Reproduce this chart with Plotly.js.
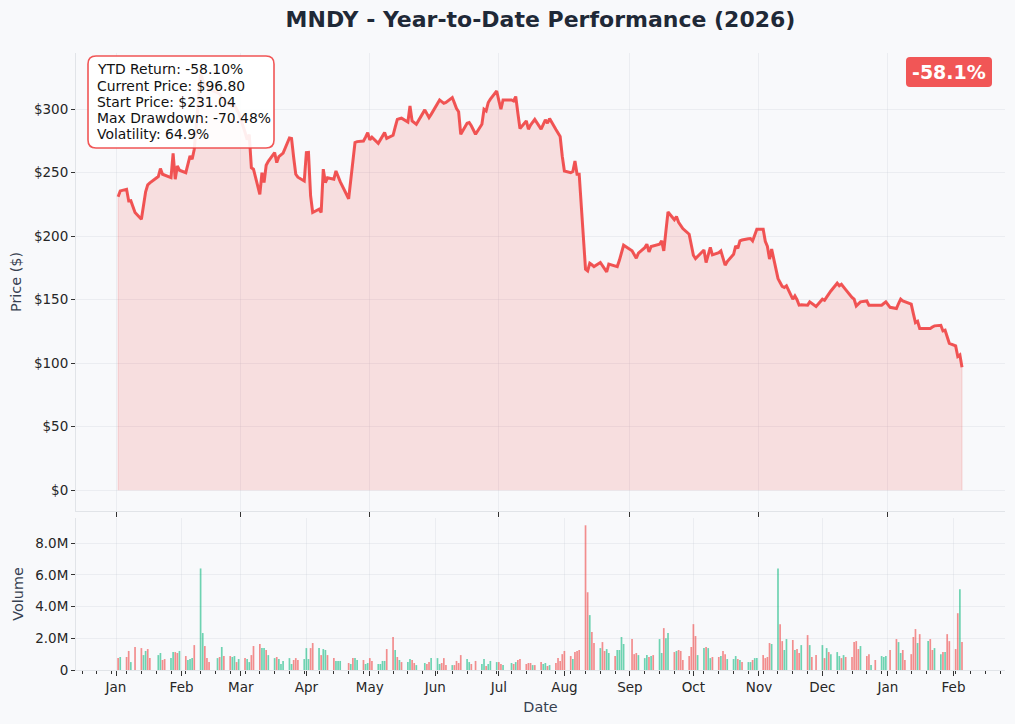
<!DOCTYPE html>
<html>
<head>
<meta charset="utf-8">
<script src="https://cdn.plot.ly/plotly-3.0.1.min.js"></script>
<style>
  html, body { margin: 0; padding: 0; background: #f8f9fb; }
  #chart { width: 1015px; height: 724px; }
</style>
</head>
<body>
<div id="chart"></div>
<script>
// trading days, one row per month
const tradingDays = [
  ["2025-01", "02 03 06 07 08 10 13 14 15 16 17 21 22 23 24 27 28 29 30 31"],
  ["2025-02", "03 04 05 06 07 10 11 12 13 14 18 19 20 21 24 25 26 27 28"],
  ["2025-03", "03 04 05 06 07 10 11 12 13 14 17 18 19 20 21 24 25 26 27 28 31"],
  ["2025-04", "01 02 03 04 07 08 09 10 11 14 15 16 17 21 22 23 24 25 28 29 30"],
  ["2025-05", "01 02 05 06 07 08 09 12 13 14 15 16 19 20 21 22 23 27 28 29 30"],
  ["2025-06", "02 03 04 05 06 09 10 11 12 13 16 17 18 20 23 24 25 26 27 30"],
  ["2025-07", "01 02 03 07 08 09 10 11 14 15 16 17 18 21 22 23 24 25 28 29 30 31"],
  ["2025-08", "01 04 05 06 07 08 11 12 13 14 15 18 19 20 21 22 25 26 27 28 29"],
  ["2025-09", "02 03 04 05 08 09 10 11 12 15 16 17 18 19 22 23 24 25 26 29 30"],
  ["2025-10", "01 02 03 06 07 08 09 10 13 14 15 16 17 20 21 22 23 24 27 28 29 30 31"],
  ["2025-11", "03 04 05 06 07 10 11 12 13 14 17 18 19 20 21 24 25 26 28"],
  ["2025-12", "01 02 03 04 05 08 09 10 11 12 15 16 17 18 19 22 23 24 26 29 30 31"],
  ["2026-01", "02 05 06 07 08 09 12 13 14 15 16 20 21 22 23 26 27 28 29 30"],
  ["2026-02", "02 03 04 05"],
];
const dates = tradingDays.flatMap(([m, ds]) => ds.split(" ").map(d => m + "-" + d));

// closing price ($), same order as dates
const closePrice = [
  231.04, 235.7, 237.0, 227.8, 228.0, 218.7, 213.4, 225.6, 235.0, 240.5, 242.0, 247.0, 253.3, 248.8, 248.0, 246.2, 265.3, 244.9, 255.4, 252.0,
  250.0, 256.0, 263.2, 260.6, 268.5, 327.9, 322.0, 318.0, 320.0, 316.0, 313.0, 312.0, 309.0, 307.0, 304.0, 302.0, 303.0, 300.0, 297.0,
  282.0, 276.0, 280.0, 254.0, 252.8, 233.0, 250.0, 242.3, 255.9, 259.0, 265.9, 258.0, 262.7, 264.0, 265.4, 277.4, 277.0, 262.0, 248.8, 246.5, 243.5,
  265.9, 266.0, 232.0, 218.7, 221.3, 218.7, 252.8, 242.3, 246.0, 244.9, 251.4, 247.0, 243.0, 229.5, 244.0, 258.0, 273.8, 274.5, 275.0, 278.0, 281.6,
  276.0, 278.0, 273.2, 276.0, 279.0, 281.6, 277.0, 279.5, 286.0, 292.0, 292.5, 293.0, 290.0, 302.6, 290.8, 289.5, 288.2, 299.5, 296.0, 293.5, 296.0,
  305.0, 307.3, 306.0, 304.7, 305.3, 309.2, 305.0, 300.5, 298.0, 280.3, 289.0, 289.5, 287.0, 280.3, 288.2, 300.0, 298.7, 305.3, 308.0, 314.4,
  307.0, 300.0, 307.3, 307.3, 306.5, 310.0, 297.0, 284.8, 290.8, 284.3, 287.5, 290.0, 292.0, 284.3, 288.0, 291.6, 289.0, 292.7, 284.0, 281.0, 278.5, 263.0,
  251.4, 250.1, 251.0, 259.3, 248.8, 248.8, 174.0, 172.7, 178.7, 177.5, 176.1, 179.3, 177.0, 174.5, 171.9, 178.0, 176.5, 176.1, 181.0, 187.0, 192.9,
  188.5, 186.0, 182.7, 186.7, 191.0, 193.7, 187.6, 191.9, 192.5, 193.7, 196.3, 188.4, 204.0, 219.1, 213.0, 215.5, 211.0, 208.0, 206.0, 201.6, 193.0,
  185.0, 182.4, 184.0, 189.2, 179.3, 185.0, 191.1, 185.3, 187.0, 188.4, 182.0, 177.2, 180.0, 185.8, 192.4, 190.5, 196.3, 197.0, 198.0, 198.2, 196.3, 201.0, 205.5,
  205.5, 196.0, 192.0, 182.0, 189.8, 166.8, 163.5, 160.5, 159.6, 160.9, 150.4, 153.0, 150.0, 145.7, 146.0, 145.7, 148.3, 147.0, 144.6,
  150.4, 149.5, 152.0, 154.5, 156.9, 163.0, 161.0, 162.2, 160.5, 158.0, 151.8, 150.4, 145.1, 146.5, 148.3, 149.0, 145.7, 145.7, 145.7, 145.7, 147.0, 148.3,
  144.0, 143.1, 147.0, 150.4, 149.0, 148.5, 146.5, 139.0, 132.0, 133.0, 127.3, 127.3, 127.3, 128.5, 129.4, 129.9, 125.4, 126.0, 121.0, 115.7,
  113.6, 105.3, 106.5, 96.8,
];

// daily volume in millions of shares
const volumeM = [
  0.75, 0.82, 0.82, 1.20, 0.50, 1.45, 1.38, 0.94, 1.20, 1.32, 0.75, 0.94, 1.07, 0.63, 0.69, 0.75, 1.13, 1.13, 1.07, 1.20,
  0.88, 0.63, 0.69, 0.75, 1.57, 6.40, 2.33, 1.51, 0.75, 0.50, 0.75, 0.82, 1.45, 0.88, 0.88, 0.82, 0.88, 0.50, 0.69,
  0.75, 0.69, 0.50, 0.94, 1.51, 1.64, 1.38, 1.38, 1.26, 0.94, 0.75, 0.82, 0.69, 0.38, 0.57, 0.75, 0.38, 0.63, 0.75, 0.63, 0.69,
  1.38, 0.69, 1.38, 1.70, 1.38, 0.94, 1.32, 1.26, 0.94, 0.75, 0.57, 0.57, 0.57, 0.44, 0.38, 0.75, 0.75, 0.63, 0.63, 0.38, 0.44,
  0.75, 0.57, 0.38, 0.38, 0.57, 0.57, 1.32, 2.08, 1.26, 0.82, 0.63, 0.50, 0.50, 0.69, 0.63, 0.44, 0.31, 0.44, 0.38, 0.50, 0.75,
  0.75, 0.38, 0.44, 0.75, 0.31, 0.31, 0.31, 0.57, 0.44, 0.94, 0.69, 0.50, 0.38, 0.57, 0.38, 0.69, 0.25, 0.38, 0.57, 0.50,
  0.50, 0.38, 0.31, 0.44, 0.38, 0.50, 0.63, 0.69, 0.38, 0.44, 0.44, 0.31, 0.31, 0.50, 0.38, 0.44, 0.25, 0.31, 0.44, 0.75, 0.57, 1.00,
  1.20, 0.88, 0.69, 1.13, 1.20, 1.26, 9.12, 4.90, 3.46, 2.39, 1.70, 1.38, 1.76, 1.20, 1.32, 1.07, 0.88, 1.26, 1.26, 2.08, 1.64,
  1.95, 1.00, 1.07, 0.94, 0.75, 0.94, 0.82, 0.88, 0.94, 1.95, 1.07, 2.64, 2.00, 2.33, 1.13, 1.20, 1.26, 1.20, 0.63, 0.88, 1.45,
  2.89, 2.14, 0.94, 1.38, 1.45, 1.38, 0.75, 0.82, 0.82, 0.88, 1.20, 1.00, 0.69, 0.69, 0.88, 0.69, 0.63, 0.50, 0.50, 0.50, 0.63, 0.75, 0.75,
  0.94, 0.75, 0.82, 1.70, 1.64, 6.40, 2.89, 1.82, 1.26, 1.95, 1.89, 1.26, 1.32, 1.07, 1.57, 2.20, 1.57, 0.82, 0.94,
  1.57, 0.75, 1.38, 1.13, 1.00, 1.13, 0.88, 0.75, 0.94, 0.82, 0.82, 1.76, 1.82, 1.32, 1.51, 0.88, 1.00, 0.31, 0.63, 0.88, 0.82, 0.88,
  1.26, 1.95, 1.76, 1.07, 1.26, 0.63, 1.00, 2.08, 2.58, 1.70, 2.26, 1.82, 1.95, 1.26, 1.38, 1.00, 1.13, 1.13, 2.26, 1.82,
  1.32, 3.58, 5.09, 1.76,
];

// G = up day (green bar), R = down day (red bar)
const barSide = [
  "RGRRGRRGGRRGGRRGGRRG", "RGGGRGGRRRGRGRRGGRG", "RGGRRRGGRGGRGGGGGRRRG",
  "GGRRGRGGRRGGGRGRGGRGG", "RRGGGGRRGRGRGGRRGGRRG", "GGRRRGRRRRGGRRGGRGGG",
  "RRGGRGRRRRRGRRGGRGRRRR", "RRGRRRRRGRRGRRGGRGGGG", "RRRGGGRGRGGRGGRGRRRRR",
  "RRGGRGGRRGRRGGGRGRGGRGG", "RRRRGGRRGGRGRRGRGRR", "GRGRGGGRGRRRRRGRRGRGGG",
  "RRGGRRRRRGRGRRGGRGRR", "RRGR",
].join("").split("");

const statLines = [
  "YTD Return: -58.10%",
  "Current Price: $96.80",
  "Start Price: $231.04",
  "Max Drawdown: -70.48%",
  "Volatility: 64.9%",
];
const badgeText = "-58.1%";

const RED = "239,68,68";
const GREEN = "16,185,129";
const GRID = "rgba(190,196,206,0.22)";
const SPINE = "#e1e4e8";

// pixel -> paper helpers for the overlay boxes
const W = 1015, H = 724;
const M = { l: 76, r: 10, t: 53, b: 54 };
const pw = W - M.l - M.r, ph = H - M.t - M.b;
const px = x => (x - M.l) / pw;
const py = y => (H - M.b - y) / ph;

function roundRect(x0, y0, x1, y1, r) {
  const X = v => px(v).toFixed(5), Y = v => py(v).toFixed(5);
  return `M${X(x0 + r)},${Y(y0)} L${X(x1 - r)},${Y(y0)} Q${X(x1)},${Y(y0)} ${X(x1)},${Y(y0 + r)} ` +
    `L${X(x1)},${Y(y1 - r)} Q${X(x1)},${Y(y1)} ${X(x1 - r)},${Y(y1)} ` +
    `L${X(x0 + r)},${Y(y1)} Q${X(x0)},${Y(y1)} ${X(x0)},${Y(y1 - r)} ` +
    `L${X(x0)},${Y(y0 + r)} Q${X(x0)},${Y(y0)} ${X(x0 + r)},${Y(y0)} Z`;
}

const n = dates.length;

let area = {
  x: [dates[0], ...dates, dates[n - 1]],
  y: [0, ...closePrice, 0],
  type: "scatter",
  mode: "lines",
  fill: "toself",
  fillcolor: `rgba(${RED},0.15)`,
  line: { color: `rgba(${RED},0.18)`, width: 1 },
  xaxis: "x", yaxis: "y",
  hoverinfo: "skip",
};

let priceLine = {
  x: dates,
  y: closePrice,
  type: "scatter",
  mode: "lines",
  line: { color: `rgba(${RED},0.9)`, width: 3 },
  xaxis: "x", yaxis: "y",
};

let volume = {
  x: dates,
  y: volumeM.map(v => v * 1e6),
  type: "bar",
  width: 0.8 * 86400000,
  marker: {
    color: barSide.map(s => s === "G" ? `rgba(${GREEN},0.6)` : `rgba(${RED},0.6)`),
    line: { width: 0 },
  },
  xaxis: "x2", yaxis: "y2",
};

const xRange = ["2024-12-13 02:00", "2026-02-25 08:00"];
const tickFont = { size: 13.5, color: "#262626" };
const titleFont = { size: 14.4, color: "#374151" };

let layout = {
  width: W, height: H,
  margin: M,
  paper_bgcolor: "#f8f9fb",
  plot_bgcolor: "#f8f9fb",
  font: { family: "DejaVu Sans", size: 13.5, color: "#262626" },
  showlegend: false,
  hovermode: false,
  title: {
    text: "MNDY - Year-to-Date Performance (2026)",
    font: { size: 22, color: "#1f2937", weight: "bold" },
    x: 0.5, xref: "paper", xanchor: "center",
    y: 1 - 19 / H, yref: "container", yanchor: "middle",
  },
  xaxis: {
    type: "date", range: xRange, domain: [0, 1], anchor: "y",
    tick0: "2025-01-01", dtick: "M2", showticklabels: false,
    ticks: "outside", ticklen: 5, tickcolor: "#333", tickwidth: 1,
    showgrid: true, gridcolor: GRID,
    showline: true, linecolor: SPINE, zeroline: false,
  },
  yaxis: {
    range: [-16.4, 344.3], domain: [py(511), 1], anchor: "x",
    dtick: 50, tick0: 0, tickprefix: "$", tickfont: tickFont,
    ticks: "outside", ticklen: 4, tickcolor: "#333",
    showgrid: true, gridcolor: GRID,
    showline: true, linecolor: SPINE, zeroline: false,
    title: { text: "Price ($)", font: titleFont, standoff: 8 },
  },
  xaxis2: {
    type: "date", range: xRange, domain: [0, 1], anchor: "y2",
    tick0: "2025-01-01", dtick: "M1", tickformat: "%b", tickfont: tickFont,
    ticks: "outside", ticklen: 4.5, tickcolor: "#333",
    minor: { ticks: "outside", ticklen: 2.5, tickcolor: "#333", tick0: "2024-12-16", dtick: 7 * 86400000, showgrid: false },
    showgrid: true, gridcolor: GRID,
    showline: true, linecolor: SPINE, zeroline: false,
    title: { text: "Date", font: titleFont, standoff: 8 },
  },
  yaxis2: {
    range: [0, 9.58e6], domain: [0, py(518)], anchor: "x2",
    tickvals: [0, 2e6, 4e6, 6e6, 8e6],
    ticktext: ["0", "2.0M", "4.0M", "6.0M", "8.0M"],
    tickfont: tickFont,
    ticks: "outside", ticklen: 4, tickcolor: "#333",
    showgrid: true, gridcolor: GRID,
    showline: true, linecolor: SPINE, zeroline: false,
    title: { text: "Volume", font: titleFont, standoff: 8 },
  },
  shapes: [
    {
      type: "path", xref: "paper", yref: "paper",
      path: roundRect(88, 56, 274, 148, 8),
      fillcolor: "rgba(255,255,255,0.9)",
      line: { color: `rgba(${RED},0.9)`, width: 1.6 },
    },
    {
      type: "path", xref: "paper", yref: "paper",
      path: roundRect(906, 57, 992, 87, 4),
      fillcolor: `rgba(${RED},0.9)`,
      line: { width: 0 },
    },
  ],
  annotations: [
    ...statLines.map((t, i) => ({
      text: t, showarrow: false,
      xref: "paper", yref: "paper",
      x: px(94.5), y: py(69.3 + 16.25 * i),
      xanchor: "left", yanchor: "middle",
      font: { size: 13.9, color: "#111" },
    })),
    {
      text: badgeText, showarrow: false,
      xref: "paper", yref: "paper",
      x: px(949), y: py(72),
      xanchor: "center", yanchor: "middle",
      font: { size: 19, color: "#ffffff", weight: "bold" },
    },
  ],
};

Plotly.newPlot("chart", [area, priceLine, volume], layout, {
  displayModeBar: false,
  staticPlot: true,
});
</script>
</body>
</html>
